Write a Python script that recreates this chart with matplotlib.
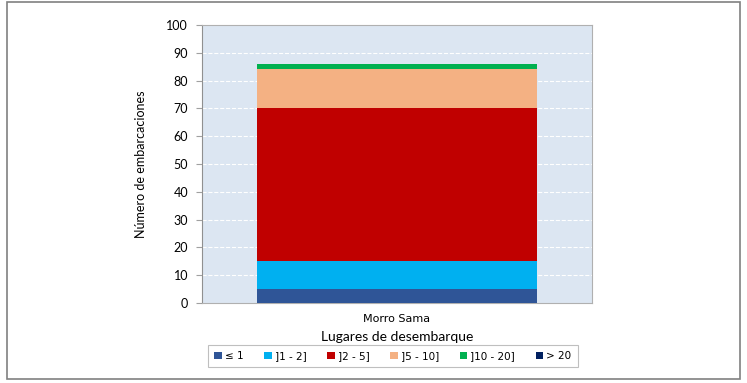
import matplotlib.pyplot as plt
from matplotlib.patches import Rectangle

# datos
lugares = ['Morro Sama']
clases = ['≤ 1', ']1 - 2]', ']2 - 5]', ']5 - 10]', ']10 - 20]', '> 20']
le_1 = [5]
de_1_2 = [10]
de_2_5 = [55]
de_5_10 = [14]
de_10_20 = [2]
mas_20 = [0]
colores = ['#2F5597', '#00B0F0', '#C00000', '#F4B183', '#00B050', '#002060']

series = [le_1, de_1_2, de_2_5, de_5_10, de_10_20, mas_20]

plt.rcParams['font.family'] = ['Lato', 'DejaVu Sans']

fig = plt.figure(figsize=(7.47, 3.83), dpi=100)
ax = fig.add_axes([0.2704, 0.2089, 0.522, 0.7258])
ax.set_facecolor('#DCE6F2')

x = list(range(len(lugares)))
base = [0] * len(lugares)
for vals, nombre, col in zip(series, clases, colores):
    ax.bar(x, vals, width=0.72, bottom=base, color=col, label=nombre, zorder=3)
    base = [b + v for b, v in zip(base, vals)]

ax.set_xlim(-0.5, 0.5)
ax.set_ylim(0, 100)
ax.set_yticks(range(0, 101, 10))
ax.yaxis.grid(True, color='white', linestyle='--', linewidth=0.8, zorder=0)
ax.set_xticks(x)
ax.set_xticklabels(lugares, fontsize=8, family=['Liberation Sans Narrow', 'DejaVu Sans'])
ax.tick_params(axis='x', length=0, pad=8)
ax.tick_params(axis='y', labelsize=9, color='#A0A0A0', length=4, pad=6)

for s in ax.spines.values():
    s.set_color('#B0B0B0')
ax.spines['left'].set_color('#909090')

ax.set_ylabel('Número de embarcaciones', fontsize=9, labelpad=14)
ax.set_xlabel('Lugares de desembarque', fontsize=10, labelpad=5)

leg = ax.legend(loc='center', bbox_to_anchor=(0.526, 0.0705), bbox_transform=fig.transFigure,
                ncol=6, frameon=True, fancybox=False, edgecolor='#B0B0B0',
                handlelength=0.7, handleheight=0.7, handletextpad=0.3, columnspacing=2.0,
                borderpad=0.6, prop={'family': ['Liberation Sans Narrow', 'DejaVu Sans'], 'size': 7.5})
leg.get_frame().set_linewidth(0.8)

# marco exterior
fig.patches.append(Rectangle((0.009, 0.01), 0.982, 0.985, transform=fig.transFigure,
                             fill=False, edgecolor='#808080', linewidth=1.2))

fig.savefig('out.png', dpi=100)
